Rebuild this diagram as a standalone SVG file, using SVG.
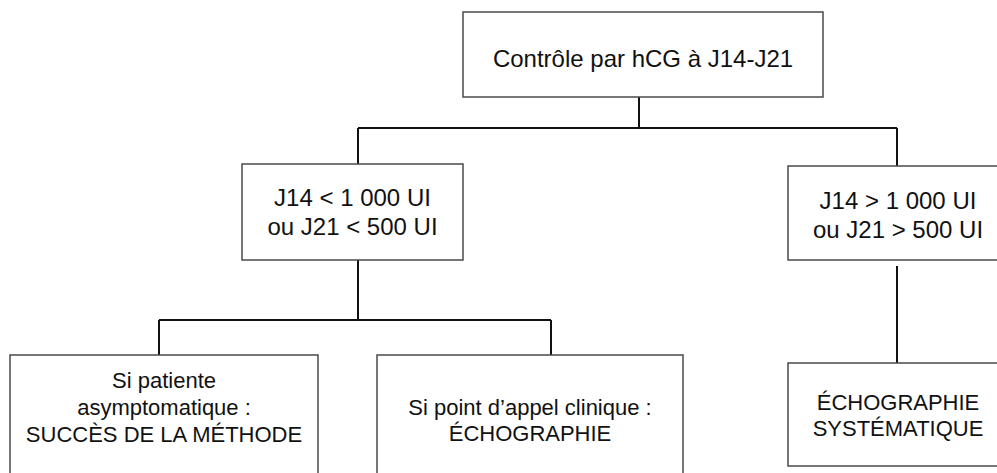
<svg xmlns="http://www.w3.org/2000/svg" width="997" height="473" viewBox="0 0 997 473">
<style>
.box{fill:#fff;stroke:#4a4a4a;stroke-width:1.5}
.t{font-family:"Liberation Sans",Arial,sans-serif;fill:#111;text-anchor:middle}
.m{font-size:24px}
.s{font-size:22px}
.c{fill:none;stroke:#111;stroke-width:2}
</style>
<rect width="997" height="473" fill="#fff"/>
<g id="connectors">
<path class="c" d="M639,97 V128 M358,128 H897 M358,128 V164 M897,128 V166"/>
<path class="c" d="M358,260 V320 M159,320 H551 M159,320 V355 M551,320 V355"/>
<path class="c" d="M897,266 V363"/>
</g>
<g id="n-top">
<rect class="box" x="463" y="12" width="360" height="85"/>
<text class="t m" x="643" y="67">Contrôle par hCG à J14-J21</text>
</g>
<g id="n-low">
<rect class="box" x="242" y="164" width="221" height="96"/>
<text class="t m" x="352.5" y="206">J14 &lt; 1 000 UI</text>
<text class="t m" x="352.5" y="235">ou J21 &lt; 500 UI</text>
</g>
<g id="n-high">
<rect class="box" x="788" y="166" width="221" height="94"/>
<text class="t m" x="898" y="209">J14 &gt; 1 000 UI</text>
<text class="t m" x="898" y="238">ou J21 &gt; 500 UI</text>
</g>
<g id="n-success">
<rect class="box" x="10" y="355" width="308" height="130"/>
<text class="t s" x="164" y="388">Si patiente</text>
<text class="t s" x="164" y="415">asymptomatique :</text>
<text class="t s" x="164" y="442">SUCCÈS DE LA MÉTHODE</text>
</g>
<g id="n-clinical">
<rect class="box" x="377" y="355" width="306" height="130"/>
<text class="t s" x="530" y="415">Si point d’appel clinique :</text>
<text class="t s" x="530" y="441">ÉCHOGRAPHIE</text>
</g>
<g id="n-echo">
<rect class="box" x="788" y="363" width="221" height="103"/>
<text class="t s" x="898" y="410">ÉCHOGRAPHIE</text>
<text class="t s" x="898" y="436">SYSTÉMATIQUE</text>
</g>
</svg>
